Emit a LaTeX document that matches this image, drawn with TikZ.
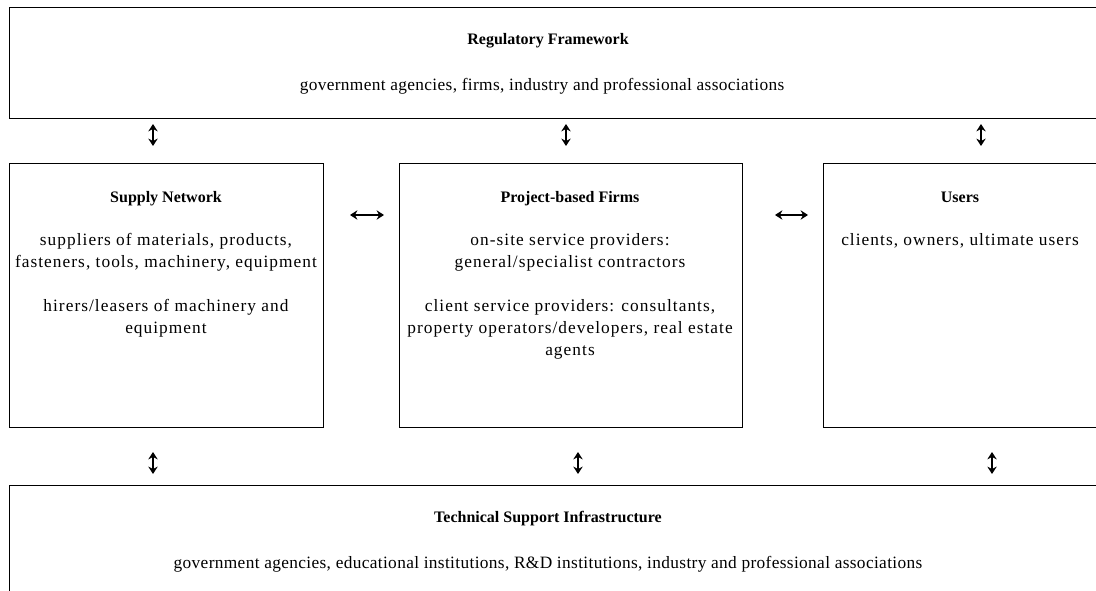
\documentclass[tikz,border=0pt]{standalone}
\usepackage{fontspec}
\setmainfont{Liberation Serif}
\newfontfamily\widefont[LetterSpace=6]{Liberation Serif}
\newfontfamily\wideshortfont[LetterSpace=2]{Liberation Serif}
\usetikzlibrary{arrows.meta,positioning}

\tikzset{
  box/.style={draw, line width=0.9pt, anchor=north west, inner sep=0pt},
  heading/.style={font=\fontsize{12}{16.5}\selectfont\bfseries, anchor=base, inner sep=0pt},
  body/.style={font=\widefont\fontsize{13}{16.5}\selectfont, align=center, anchor=north, inner sep=0pt},
  longbody/.style={font=\wideshortfont\fontsize{13}{16.5}\selectfont, anchor=north, inner sep=0pt},
  link/.style={{Stealth[length=5.5pt,width=7pt]}-{Stealth[length=5.5pt,width=7pt]}, line width=1.1pt}
}

\begin{document}
\begin{tikzpicture}[x=0.75pt, y=-0.75pt]
  \useasboundingbox (0,0) rectangle (1096,591);
  \clip (0,0) rectangle (1096,591);
  % Boxes
  \node[box, minimum width=825.75pt, minimum height=83.25pt] (regbox) at (9,7) {};
  \node[box, minimum width=235.5pt, minimum height=198pt] (supbox) at (9,163) {};
  \node[box, minimum width=257.25pt, minimum height=198pt] (probox) at (399,163) {};
  \node[box, minimum width=215.25pt, minimum height=198pt] (usebox) at (823,163) {};
  \node[box, minimum width=825.75pt, minimum height=86.25pt] (tecbox) at (9,485) {};
  % Headings
  \node[heading] (regtitle) at (548,45) {Regulatory Framework};
  \node[heading] (suptitle) at (166,203) {Supply Network};
  \node[heading] (protitle) at (570,203) {Project-based Firms};
  \node[heading] (usetitle) at (960,203) {Users};
  \node[heading] (tectitle) at (548,522) {Technical Support Infrastructure};
  % Texts
  \node[longbody] (regtext) at (542,78) {government agencies, firms, industry and professional associations};
  \node[body] (suptext) at (166,233) {suppliers of materials, products,\\
    fasteners, tools, machinery, equipment\\[16.5pt]
    hirers/leasers of machinery and\\ equipment};
  \node[body] (protext) at (570,233) {on-site service providers:\\
    general/specialist contractors\\[16.5pt]
    client service providers: consultants,\\
    property operators/developers, real estate\\ agents};
  \node[body] (usetext) at (960,233) {clients, owners, ultimate users};
  \node[longbody] (tectext) at (548,556) {government agencies, educational institutions, R\&D institutions, industry and professional associations};
  % Arrow ends
  \coordinate (ra1) at (153,124); \coordinate (rb1) at (153,146);
  \coordinate (ra2) at (566,124); \coordinate (rb2) at (566,146);
  \coordinate (ra3) at (981,124); \coordinate (rb3) at (981,146);
  \coordinate (ta1) at (153,452); \coordinate (tb1) at (153,474);
  \coordinate (ta2) at (578,452); \coordinate (tb2) at (578,474);
  \coordinate (ta3) at (992,452); \coordinate (tb3) at (992,474);
  \coordinate (ha1) at (350,215); \coordinate (hb1) at (384,215);
  \coordinate (ha2) at (775,215); \coordinate (hb2) at (808,215);
  % Arrows
  \foreach \i in {1,2,3} {
    \draw[link] (ra\i) -- (rb\i);
    \draw[link] (ta\i) -- (tb\i);
  }
  \draw[link] (ha1) -- (hb1);
  \draw[link] (ha2) -- (hb2);
\end{tikzpicture}
\end{document}
